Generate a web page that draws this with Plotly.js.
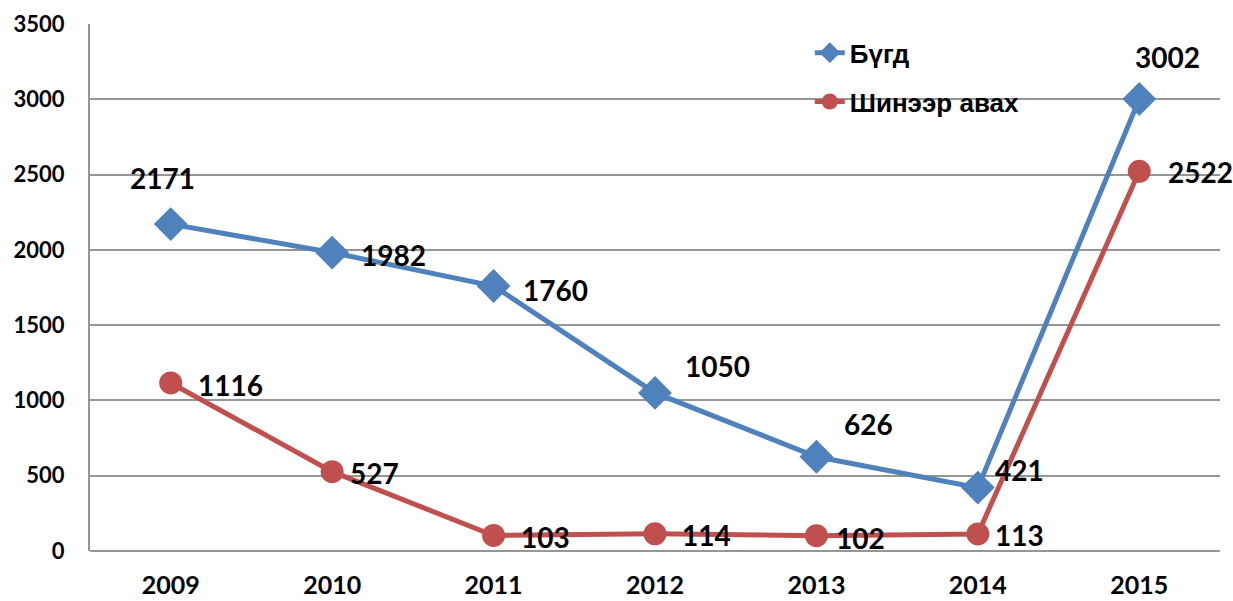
<!DOCTYPE html>
<html>
<head>
<meta charset="utf-8">
<script src="https://cdn.plot.ly/plotly-3.0.1.min.js"></script>
<style>
  html, body { margin: 0; padding: 0; background: #fff; }
  #chart { width: 1233px; height: 601px; }
</style>
</head>
<body>
<div id="chart"></div>
<script>
// years on the x axis
var years = ['2009', '2010', '2011', '2012', '2013', '2014', '2015'];
// totals (Бүгд) and new admissions (Шинээр авах)
var totalValues = [2171, 1982, 1760, 1050, 626, 421, 3002];
var newValues = [1116, 527, 103, 114, 102, 113, 2522];
var yTicks = [0, 500, 1000, 1500, 2000, 2500, 3000, 3500];

// label offsets in pixels, [xshift, yshift] per point
var totalShift = [[-8, 46], [61, -2], [62, -4], [62, 27], [52, 33], [42, 18], [28, 42]];
var newShift = [[60, -2], [42, -1], [52, -2], [51, -1], [44, -2], [42, -1], [61, -1]];

var blue = '#4F81BD';
var red = '#C0504D';
var labelFont = { family: 'Lato, sans-serif', size: 28, color: '#000', weight: 'bold' };

var traceTotal = {
  x: years, y: totalValues, name: 'Бүгд', type: 'scatter', mode: 'lines+markers',
  line: { color: blue, width: 5 },
  marker: { symbol: 'diamond', size: 26, color: blue },
  legendgroup: 'a', hoverinfo: 'x+y'
};
var traceNew = {
  x: years, y: newValues, name: 'Шинээр авах', type: 'scatter', mode: 'lines+markers',
  line: { color: red, width: 5 },
  marker: { symbol: 'circle', size: 23, color: red },
  legendgroup: 'b', hoverinfo: 'x+y'
};

// category axes place annotations by category index
var annotations = [];
years.forEach(function (yr, i) {
  annotations.push({
    x: i, y: totalValues[i], xref: 'x', yref: 'y', text: String(totalValues[i]),
    showarrow: false, xshift: totalShift[i][0], yshift: totalShift[i][1], font: labelFont
  });
  annotations.push({
    x: i, y: newValues[i], xref: 'x', yref: 'y', text: String(newValues[i]),
    showarrow: false, xshift: newShift[i][0], yshift: newShift[i][1], font: labelFont
  });
});

var layout = {
  width: 1233, height: 601,
  margin: { l: 90, r: 13, t: 24, b: 50 },
  paper_bgcolor: '#fff', plot_bgcolor: '#fff',
  font: { family: 'Lato, sans-serif', size: 22, color: '#000', weight: 'bold' },
  showlegend: true,
  legend: {
    x: 0.637, y: 0.99, xanchor: 'left', yanchor: 'top',
    bgcolor: 'rgba(0,0,0,0)', traceorder: 'grouped', tracegroupgap: 12,
    font: { family: '"Liberation Sans", Arial, sans-serif', size: 26, color: '#000', weight: 'bold' }
  },
  xaxis: {
    type: 'category', range: [-0.5, 6.5], showgrid: false, zeroline: false,
    showline: false, ticks: '', ticklabelstandoff: 17,
    tickfont: { family: 'Lato, sans-serif', size: 25, color: '#000', weight: 'bold' }
  },
  yaxis: {
    range: [0, 3500], tickmode: 'array', tickvals: yTicks, ticktext: yTicks.map(String),
    showgrid: true, gridcolor: '#969696', gridwidth: 2,
    zeroline: true, zerolinecolor: '#969696', zerolinewidth: 2,
    showline: true, linecolor: '#969696', linewidth: 2, ticks: '', ticklabelstandoff: 19,
    tickfont: { family: 'Lato, sans-serif', size: 22, color: '#000', weight: 'bold' }
  },
  annotations: annotations
};

Plotly.newPlot('chart', [traceTotal, traceNew], layout, { displayModeBar: false, displaylogo: false });
</script>
</body>
</html>
